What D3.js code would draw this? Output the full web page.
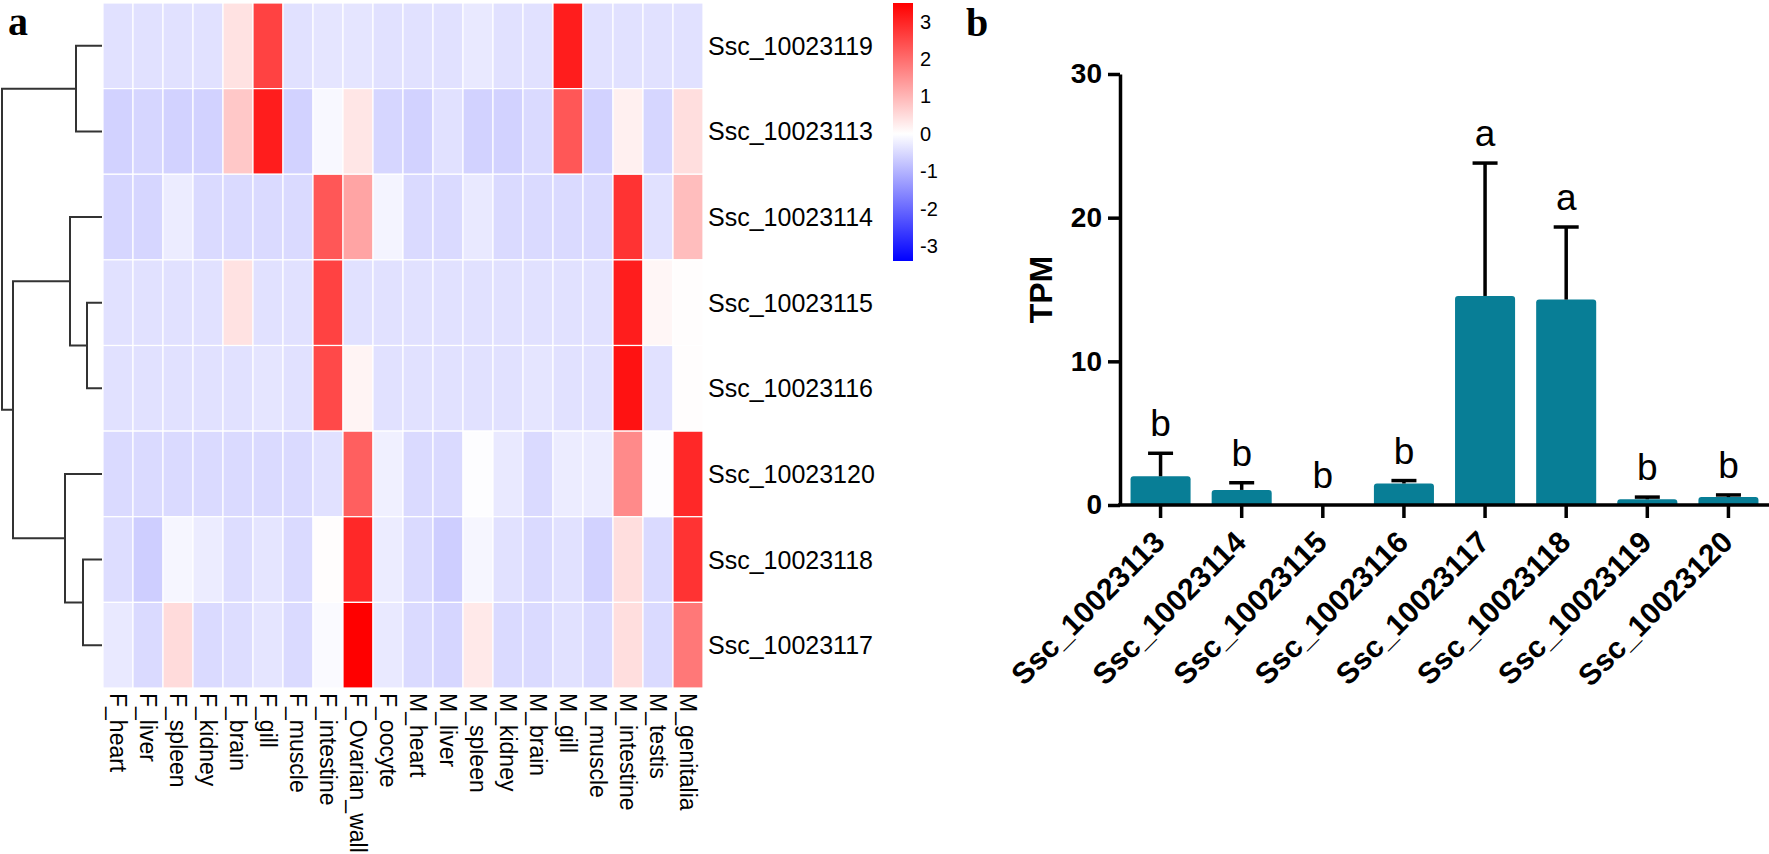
<!DOCTYPE html>
<html>
<head>
<meta charset="utf-8">
<script src="https://cdn.jsdelivr.net/npm/d3@7"></script>
<style>
  body { margin: 0; background: #fff; }
  svg { display: block; }
</style>
</head>
<body>
<script>
'use strict';

// heatmap rows, top to bottom (clustered order)
const genes = ['Ssc_10023119', 'Ssc_10023113', 'Ssc_10023114', 'Ssc_10023115',
  'Ssc_10023116', 'Ssc_10023120', 'Ssc_10023118', 'Ssc_10023117'];

const tissues = ['F_heart', 'F_liver', 'F_spleen', 'F_kidney', 'F_brain', 'F_gill',
  'F_muscle', 'F_intestine', 'F_Ovarian_wall', 'F_oocyte', 'M_heart', 'M_liver',
  'M_spleen', 'M_kidney', 'M_brain', 'M_gill', 'M_muscle', 'M_intestine',
  'M_testis', 'M_genitalia'];

// row-scaled expression, one array per gene (same order as genes)
const zValues = [
  [-0.4, -0.4, -0.4, -0.4, 0.4, 2.6, -0.4, -0.35, -0.35, -0.4, -0.4, -0.4, -0.3, -0.4, -0.4, 3.1, -0.4, -0.4, -0.4, -0.4],
  [-0.6, -0.55, -0.6, -0.6, 0.75, 3.1, -0.6, -0.1, 0.35, -0.55, -0.6, -0.4, -0.6, -0.6, -0.5, 2.3, -0.6, 0.2, -0.55, 0.45],
  [-0.55, -0.55, -0.25, -0.5, -0.5, -0.5, -0.5, 2.3, 1.25, -0.15, -0.5, -0.5, -0.3, -0.5, -0.5, -0.5, -0.5, 2.8, -0.4, 0.9],
  [-0.4, -0.4, -0.4, -0.4, 0.4, -0.4, -0.4, 2.6, -0.4, -0.4, -0.4, -0.4, -0.4, -0.4, -0.4, -0.4, -0.4, 3.1, 0.12, 0.03],
  [-0.4, -0.4, -0.4, -0.4, -0.4, -0.35, -0.4, 2.5, 0.15, -0.4, -0.4, -0.4, -0.4, -0.4, -0.35, -0.4, -0.4, 3.25, -0.4, 0.03],
  [-0.5, -0.5, -0.5, -0.5, -0.5, -0.5, -0.5, -0.4, 2.2, -0.2, -0.5, -0.5, -0.03, -0.3, -0.5, -0.25, -0.25, 1.6, -0.03, 2.95],
  [-0.45, -0.65, -0.12, -0.25, -0.45, -0.35, -0.5, 0.03, 2.95, -0.25, -0.5, -0.65, -0.12, -0.4, -0.5, -0.4, -0.6, 0.45, -0.5, 2.8],
  [-0.3, -0.5, 0.5, -0.5, -0.45, -0.35, -0.5, -0.07, 3.5, -0.3, -0.5, -0.55, 0.3, -0.5, -0.5, -0.4, -0.5, 0.45, -0.5, 1.85],
];

const colorTicks = [-3, -2, -1, 0, 1, 2, 3];

// row dendrogram (merge heights)
const rowTree = {h: 10, children: [
  {h: 2.6, children: [{leaf: 'Ssc_10023119'}, {leaf: 'Ssc_10023113'}]},
  {h: 8.9, children: [
    {h: 3.2, children: [{leaf: 'Ssc_10023114'},
      {h: 1.5, children: [{leaf: 'Ssc_10023115'}, {leaf: 'Ssc_10023116'}]}]},
    {h: 3.7, children: [{leaf: 'Ssc_10023120'},
      {h: 1.9, children: [{leaf: 'Ssc_10023118'}, {leaf: 'Ssc_10023117'}]}]},
  ]},
]};

// bar chart
const barGenes = ['Ssc_10023113', 'Ssc_10023114', 'Ssc_10023115', 'Ssc_10023116',
  'Ssc_10023117', 'Ssc_10023118', 'Ssc_10023119', 'Ssc_10023120'];
const tpmMean = [2.0, 1.05, 0, 1.5, 14.55, 14.3, 0.4, 0.55];
const tpmErr = [1.6, 0.5, 0, 0.2, 9.25, 5.05, 0.15, 0.15];
const groups = ['b', 'b', 'b', 'b', 'a', 'a', 'b', 'b'];
const tpmTicks = [0, 10, 20, 30];

const W = 1769, H = 854;
const sans = 'Liberation Sans, Arial, sans-serif';

const svg = d3.select('body').append('svg')
  .attr('width', W)
  .attr('height', H)
  .style('font-family', sans);

// ---------- panel a: heatmap ----------
const x = d3.scaleBand().domain(tissues).range([103, 703]);
const y = d3.scaleBand().domain(genes).range([3, 688]);
const color = d3.scaleLinear()
  .domain([-3.4, 0, 3.5])
  .range(['#0000ff', '#ffffff', '#ff0000']);

const cells = [];
genes.forEach((g, i) => tissues.forEach((t, j) => cells.push({g, t, v: zValues[i][j]})));

svg.append('g').selectAll('rect')
  .data(cells)
  .enter()
  .append('rect')
  .attr('x', d => x(d.t))
  .attr('y', d => y(d.g))
  .attr('width', x.bandwidth())
  .attr('height', y.bandwidth())
  .attr('fill', d => color(d.v))
  .attr('stroke', '#fff')
  .attr('stroke-width', 1.2);

svg.append('g').selectAll('text')
  .data(genes)
  .enter()
  .append('text')
  .attr('x', 708)
  .attr('y', d => y(d) + y.bandwidth() / 2)
  .attr('dy', '0.36em')
  .style('font-size', '25px')
  .text(d => d);

svg.append('g').selectAll('text')
  .data(tissues)
  .enter()
  .append('text')
  .attr('transform', d => `translate(${x(d) + x.bandwidth() / 2 - 8}, 693) rotate(90)`)
  .style('font-size', '23px')
  .text(d => d);

// dendrogram
const hx = d3.scaleLinear().domain([0, 10]).range([102, 2]);
const root = d3.hierarchy(rowTree);
root.eachAfter(n => {
  if (n.data.leaf) {
    n.px = hx(0);
    n.py = y(n.data.leaf) + y.bandwidth() / 2;
  } else {
    n.px = hx(n.data.h);
    n.py = d3.mean(n.children, c => c.py);
  }
});
svg.append('g').selectAll('path')
  .data(root.descendants().filter(n => n.children))
  .enter()
  .append('path')
  .attr('d', n => {
    const [a, b] = n.children;
    return `M${a.px},${a.py}H${n.px}V${b.py}H${b.px}`;
  })
  .attr('fill', 'none')
  .attr('stroke', '#333')
  .attr('stroke-width', 2);

// colour key
const cy = d3.scaleLinear().domain([3.5, -3.4]).range([3, 261]);
const grad = svg.append('defs').append('linearGradient')
  .attr('id', 'key')
  .attr('x1', 0).attr('y1', 1).attr('x2', 0).attr('y2', 0);
grad.selectAll('stop')
  .data(color.domain())
  .enter()
  .append('stop')
  .attr('offset', d => (d - (-3.4)) / 6.9)
  .attr('stop-color', d => color(d));
svg.append('rect')
  .attr('x', 893).attr('y', 3)
  .attr('width', 20).attr('height', 258)
  .attr('fill', 'url(#key)');
const keyAxis = svg.append('g')
  .attr('transform', 'translate(913,0)')
  .call(d3.axisRight(cy).tickValues(colorTicks).tickFormat(d => String(d))
    .tickSize(0).tickPadding(7));
keyAxis.select('.domain').remove();
keyAxis.selectAll('text').style('font-size', '20px').style('font-family', sans);

svg.append('text')
  .attr('x', 8).attr('y', 35)
  .style('font-family', 'Liberation Serif, Times New Roman, serif')
  .style('font-weight', 'bold')
  .style('font-size', '40px')
  .text('a');

// ---------- panel b: bar chart ----------
const bx = d3.scaleBand().domain(barGenes).range([1120, 1769])
  .paddingInner(0.26).paddingOuter(0.13);
const by = d3.scaleLinear().domain([0, 30]).range([505, 74]);

svg.append('g').selectAll('path')
  .data(barGenes)
  .enter()
  .append('path')
  .attr('d', (d, i) => {
    const x0 = bx(d), w = bx.bandwidth(), y0 = by(tpmMean[i]), r = 3;
    const h = by(0) - y0;
    if (h <= 0) return null;
    return `M${x0},${by(0)}V${y0 + r}Q${x0},${y0} ${x0 + r},${y0}H${x0 + w - r}` +
      `Q${x0 + w},${y0} ${x0 + w},${y0 + r}V${by(0)}Z`;
  })
  .attr('fill', '#087e96');

const err = svg.append('g')
  .attr('stroke', '#000')
  .attr('stroke-width', 3.5)
  .selectAll('g')
  .data(barGenes.filter((d, i) => tpmErr[i] > 0))
  .enter()
  .append('g');
err.append('line')
  .attr('x1', d => bx(d) + bx.bandwidth() / 2)
  .attr('x2', d => bx(d) + bx.bandwidth() / 2)
  .attr('y1', d => by(tpmMean[barGenes.indexOf(d)]))
  .attr('y2', d => { const i = barGenes.indexOf(d); return by(tpmMean[i] + tpmErr[i]); });
err.append('line')
  .attr('x1', d => bx(d) + bx.bandwidth() / 2 - 12.5)
  .attr('x2', d => bx(d) + bx.bandwidth() / 2 + 12.5)
  .attr('y1', d => { const i = barGenes.indexOf(d); return by(tpmMean[i] + tpmErr[i]); })
  .attr('y2', d => { const i = barGenes.indexOf(d); return by(tpmMean[i] + tpmErr[i]); });

svg.append('g').selectAll('text')
  .data(barGenes)
  .enter()
  .append('text')
  .attr('x', d => bx(d) + bx.bandwidth() / 2)
  .attr('y', (d, i) => by(tpmMean[i] + tpmErr[i]) - 17)
  .attr('text-anchor', 'middle')
  .style('font-size', '37px')
  .text((d, i) => groups[i]);

const yAxis = svg.append('g')
  .attr('transform', 'translate(1120,0)')
  .call(d3.axisLeft(by).tickValues(tpmTicks).tickSize(12).tickPadding(6).tickSizeOuter(0));
const xAxis = svg.append('g')
  .attr('transform', 'translate(0,505)')
  .call(d3.axisBottom(bx).tickSize(13).tickSizeOuter(0).tickFormat(''));
[yAxis, xAxis].forEach(a => {
  a.selectAll('.domain, line').attr('stroke', '#000').attr('stroke-width', 3.5);
});
xAxis.select('.domain').attr('d', 'M1118,0H1769');
yAxis.selectAll('text')
  .style('font-size', '28px')
  .style('font-weight', 'bold')
  .style('font-family', sans)
  .attr('fill', '#000');

svg.append('g').selectAll('text')
  .data(barGenes)
  .enter()
  .append('text')
  .attr('transform', d => `translate(${bx(d) + bx.bandwidth() / 2 + 6},544) rotate(-45)`)
  .attr('text-anchor', 'end')
  .style('font-size', '30px')
  .style('font-weight', 'bold')
  .text(d => d);

svg.append('text')
  .attr('transform', `translate(1052,${(by(0) + by(30)) / 2}) rotate(-90)`)
  .attr('text-anchor', 'middle')
  .style('font-size', '32px')
  .style('font-weight', 'bold')
  .text('TPM');

svg.append('text')
  .attr('x', 966).attr('y', 36)
  .style('font-family', 'Liberation Serif, Times New Roman, serif')
  .style('font-weight', 'bold')
  .style('font-size', '40px')
  .text('b');
</script>
</body>
</html>
